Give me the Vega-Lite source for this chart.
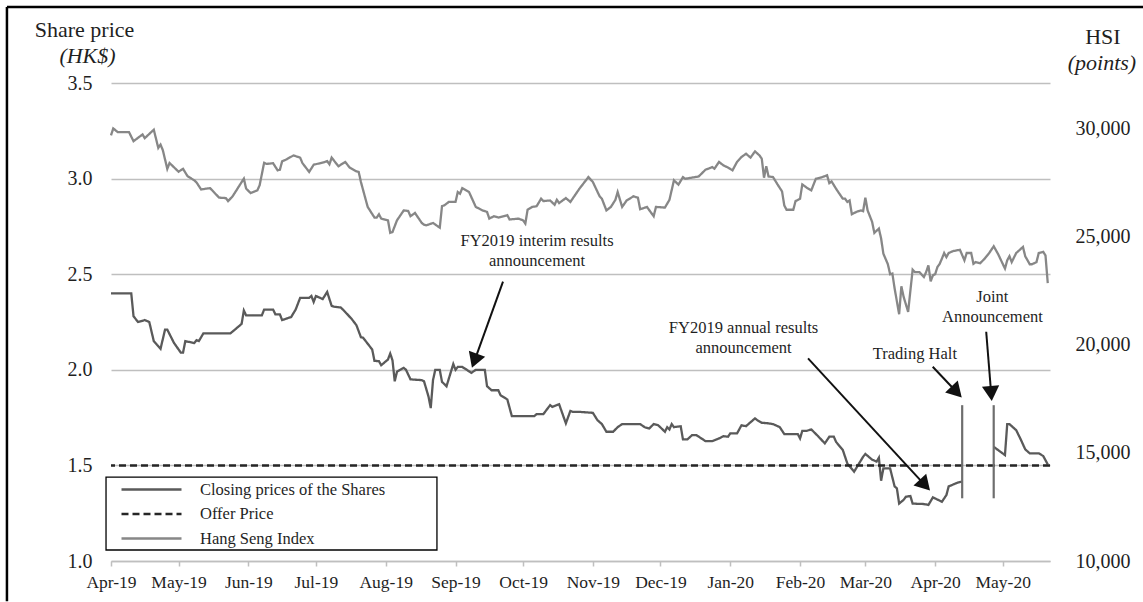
{
  "$schema": "https://vega.github.io/schema/vega-lite/v6.json",
  "width": 939,
  "height": 478,
  "autosize": {"type": "none"},
  "padding": {"left": 111, "top": 83, "right": 93, "bottom": 41},
  "background": "#ffffff",
  "config": {
    "view": {"stroke": null},
    "font": "Liberation Serif",
    "axis": {"labelFont": "Liberation Serif", "labelColor": "#1f1f1f", "titleFont": "Liberation Serif"},
    "text": {"font": "Liberation Serif"}
  },
  "datasets": {
    "price_a": [
      {"date":"2019-04-01","price":2.40,"series":"Closing prices of the Shares"},
      {"date":"2019-04-10","price":2.40,"series":"Closing prices of the Shares"},
      {"date":"2019-04-11","price":2.28,"series":"Closing prices of the Shares"},
      {"date":"2019-04-13","price":2.25,"series":"Closing prices of the Shares"},
      {"date":"2019-04-16","price":2.26,"series":"Closing prices of the Shares"},
      {"date":"2019-04-18","price":2.25,"series":"Closing prices of the Shares"},
      {"date":"2019-04-20","price":2.15,"series":"Closing prices of the Shares"},
      {"date":"2019-04-23","price":2.11,"series":"Closing prices of the Shares"},
      {"date":"2019-04-25","price":2.21,"series":"Closing prices of the Shares"},
      {"date":"2019-04-26","price":2.21,"series":"Closing prices of the Shares"},
      {"date":"2019-04-29","price":2.14,"series":"Closing prices of the Shares"},
      {"date":"2019-05-02","price":2.09,"series":"Closing prices of the Shares"},
      {"date":"2019-05-03","price":2.09,"series":"Closing prices of the Shares"},
      {"date":"2019-05-04","price":2.15,"series":"Closing prices of the Shares"},
      {"date":"2019-05-08","price":2.14,"series":"Closing prices of the Shares"},
      {"date":"2019-05-09","price":2.155,"series":"Closing prices of the Shares"},
      {"date":"2019-05-10","price":2.15,"series":"Closing prices of the Shares"},
      {"date":"2019-05-12","price":2.19,"series":"Closing prices of the Shares"},
      {"date":"2019-05-24","price":2.19,"series":"Closing prices of the Shares"},
      {"date":"2019-05-29","price":2.24,"series":"Closing prices of the Shares"},
      {"date":"2019-05-30","price":2.31,"series":"Closing prices of the Shares"},
      {"date":"2019-05-31","price":2.285,"series":"Closing prices of the Shares"},
      {"date":"2019-06-07","price":2.285,"series":"Closing prices of the Shares"},
      {"date":"2019-06-08","price":2.315,"series":"Closing prices of the Shares"},
      {"date":"2019-06-12","price":2.315,"series":"Closing prices of the Shares"},
      {"date":"2019-06-13","price":2.29,"series":"Closing prices of the Shares"},
      {"date":"2019-06-15","price":2.29,"series":"Closing prices of the Shares"},
      {"date":"2019-06-16","price":2.26,"series":"Closing prices of the Shares"},
      {"date":"2019-06-20","price":2.276,"series":"Closing prices of the Shares"},
      {"date":"2019-06-22","price":2.315,"series":"Closing prices of the Shares"},
      {"date":"2019-06-24","price":2.376,"series":"Closing prices of the Shares"},
      {"date":"2019-06-28","price":2.376,"series":"Closing prices of the Shares"},
      {"date":"2019-06-29","price":2.386,"series":"Closing prices of the Shares"},
      {"date":"2019-06-30","price":2.355,"series":"Closing prices of the Shares"},
      {"date":"2019-07-01","price":2.386,"series":"Closing prices of the Shares"},
      {"date":"2019-07-04","price":2.37,"series":"Closing prices of the Shares"},
      {"date":"2019-07-06","price":2.407,"series":"Closing prices of the Shares"},
      {"date":"2019-07-08","price":2.334,"series":"Closing prices of the Shares"},
      {"date":"2019-07-09","price":2.33,"series":"Closing prices of the Shares"},
      {"date":"2019-07-12","price":2.326,"series":"Closing prices of the Shares"},
      {"date":"2019-07-13","price":2.315,"series":"Closing prices of the Shares"},
      {"date":"2019-07-15","price":2.29,"series":"Closing prices of the Shares"},
      {"date":"2019-07-17","price":2.264,"series":"Closing prices of the Shares"},
      {"date":"2019-07-19","price":2.233,"series":"Closing prices of the Shares"},
      {"date":"2019-07-21","price":2.17,"series":"Closing prices of the Shares"},
      {"date":"2019-07-22","price":2.167,"series":"Closing prices of the Shares"},
      {"date":"2019-07-26","price":2.106,"series":"Closing prices of the Shares"},
      {"date":"2019-07-27","price":2.047,"series":"Closing prices of the Shares"},
      {"date":"2019-07-29","price":2.045,"series":"Closing prices of the Shares"},
      {"date":"2019-07-30","price":2.024,"series":"Closing prices of the Shares"},
      {"date":"2019-08-02","price":2.054,"series":"Closing prices of the Shares"},
      {"date":"2019-08-03","price":2.085,"series":"Closing prices of the Shares"},
      {"date":"2019-08-04","price":2.05,"series":"Closing prices of the Shares"},
      {"date":"2019-08-05","price":1.94,"series":"Closing prices of the Shares"},
      {"date":"2019-08-06","price":1.99,"series":"Closing prices of the Shares"},
      {"date":"2019-08-09","price":2.01,"series":"Closing prices of the Shares"},
      {"date":"2019-08-10","price":2.00,"series":"Closing prices of the Shares"},
      {"date":"2019-08-12","price":1.95,"series":"Closing prices of the Shares"},
      {"date":"2019-08-17","price":1.946,"series":"Closing prices of the Shares"},
      {"date":"2019-08-18","price":1.94,"series":"Closing prices of the Shares"},
      {"date":"2019-08-20","price":1.86,"series":"Closing prices of the Shares"},
      {"date":"2019-08-21","price":1.80,"series":"Closing prices of the Shares"},
      {"date":"2019-08-22","price":1.946,"series":"Closing prices of the Shares"},
      {"date":"2019-08-23","price":2.00,"series":"Closing prices of the Shares"},
      {"date":"2019-08-25","price":2.00,"series":"Closing prices of the Shares"},
      {"date":"2019-08-26","price":1.937,"series":"Closing prices of the Shares"},
      {"date":"2019-08-28","price":1.914,"series":"Closing prices of the Shares"},
      {"date":"2019-08-31","price":2.03,"series":"Closing prices of the Shares"},
      {"date":"2019-09-01","price":2.00,"series":"Closing prices of the Shares"},
      {"date":"2019-09-02","price":2.015,"series":"Closing prices of the Shares"},
      {"date":"2019-09-04","price":2.015,"series":"Closing prices of the Shares"},
      {"date":"2019-09-06","price":2.00,"series":"Closing prices of the Shares"},
      {"date":"2019-09-08","price":1.984,"series":"Closing prices of the Shares"},
      {"date":"2019-09-10","price":2.00,"series":"Closing prices of the Shares"},
      {"date":"2019-09-14","price":2.00,"series":"Closing prices of the Shares"},
      {"date":"2019-09-15","price":1.914,"series":"Closing prices of the Shares"},
      {"date":"2019-09-17","price":1.893,"series":"Closing prices of the Shares"},
      {"date":"2019-09-20","price":1.893,"series":"Closing prices of the Shares"},
      {"date":"2019-09-21","price":1.867,"series":"Closing prices of the Shares"},
      {"date":"2019-09-24","price":1.845,"series":"Closing prices of the Shares"},
      {"date":"2019-09-26","price":1.758,"series":"Closing prices of the Shares"},
      {"date":"2019-10-06","price":1.758,"series":"Closing prices of the Shares"},
      {"date":"2019-10-07","price":1.768,"series":"Closing prices of the Shares"},
      {"date":"2019-10-10","price":1.768,"series":"Closing prices of the Shares"},
      {"date":"2019-10-13","price":1.815,"series":"Closing prices of the Shares"},
      {"date":"2019-10-14","price":1.806,"series":"Closing prices of the Shares"},
      {"date":"2019-10-17","price":1.82,"series":"Closing prices of the Shares"},
      {"date":"2019-10-20","price":1.72,"series":"Closing prices of the Shares"},
      {"date":"2019-10-22","price":1.785,"series":"Closing prices of the Shares"},
      {"date":"2019-10-23","price":1.78,"series":"Closing prices of the Shares"},
      {"date":"2019-10-26","price":1.78,"series":"Closing prices of the Shares"},
      {"date":"2019-11-01","price":1.775,"series":"Closing prices of the Shares"},
      {"date":"2019-11-03","price":1.737,"series":"Closing prices of the Shares"},
      {"date":"2019-11-05","price":1.716,"series":"Closing prices of the Shares"},
      {"date":"2019-11-07","price":1.676,"series":"Closing prices of the Shares"},
      {"date":"2019-11-10","price":1.676,"series":"Closing prices of the Shares"},
      {"date":"2019-11-12","price":1.70,"series":"Closing prices of the Shares"},
      {"date":"2019-11-14","price":1.716,"series":"Closing prices of the Shares"},
      {"date":"2019-11-22","price":1.716,"series":"Closing prices of the Shares"},
      {"date":"2019-11-24","price":1.70,"series":"Closing prices of the Shares"},
      {"date":"2019-11-26","price":1.693,"series":"Closing prices of the Shares"},
      {"date":"2019-11-28","price":1.716,"series":"Closing prices of the Shares"},
      {"date":"2019-11-30","price":1.71,"series":"Closing prices of the Shares"},
      {"date":"2019-12-03","price":1.676,"series":"Closing prices of the Shares"},
      {"date":"2019-12-04","price":1.70,"series":"Closing prices of the Shares"},
      {"date":"2019-12-05","price":1.688,"series":"Closing prices of the Shares"},
      {"date":"2019-12-06","price":1.716,"series":"Closing prices of the Shares"},
      {"date":"2019-12-07","price":1.70,"series":"Closing prices of the Shares"},
      {"date":"2019-12-10","price":1.705,"series":"Closing prices of the Shares"},
      {"date":"2019-12-11","price":1.636,"series":"Closing prices of the Shares"},
      {"date":"2019-12-13","price":1.636,"series":"Closing prices of the Shares"},
      {"date":"2019-12-15","price":1.658,"series":"Closing prices of the Shares"},
      {"date":"2019-12-17","price":1.658,"series":"Closing prices of the Shares"},
      {"date":"2019-12-21","price":1.627,"series":"Closing prices of the Shares"},
      {"date":"2019-12-24","price":1.627,"series":"Closing prices of the Shares"},
      {"date":"2019-12-27","price":1.641,"series":"Closing prices of the Shares"},
      {"date":"2019-12-29","price":1.653,"series":"Closing prices of the Shares"},
      {"date":"2019-12-31","price":1.65,"series":"Closing prices of the Shares"},
      {"date":"2020-01-01","price":1.667,"series":"Closing prices of the Shares"},
      {"date":"2020-01-04","price":1.667,"series":"Closing prices of the Shares"},
      {"date":"2020-01-06","price":1.71,"series":"Closing prices of the Shares"},
      {"date":"2020-01-08","price":1.705,"series":"Closing prices of the Shares"},
      {"date":"2020-01-12","price":1.746,"series":"Closing prices of the Shares"},
      {"date":"2020-01-13","price":1.737,"series":"Closing prices of the Shares"},
      {"date":"2020-01-15","price":1.723,"series":"Closing prices of the Shares"},
      {"date":"2020-01-18","price":1.72,"series":"Closing prices of the Shares"},
      {"date":"2020-01-20","price":1.716,"series":"Closing prices of the Shares"},
      {"date":"2020-01-23","price":1.70,"series":"Closing prices of the Shares"},
      {"date":"2020-01-25","price":1.664,"series":"Closing prices of the Shares"},
      {"date":"2020-01-31","price":1.664,"series":"Closing prices of the Shares"},
      {"date":"2020-02-01","price":1.641,"series":"Closing prices of the Shares"},
      {"date":"2020-02-02","price":1.681,"series":"Closing prices of the Shares"},
      {"date":"2020-02-04","price":1.681,"series":"Closing prices of the Shares"},
      {"date":"2020-02-06","price":1.688,"series":"Closing prices of the Shares"},
      {"date":"2020-02-09","price":1.653,"series":"Closing prices of the Shares"},
      {"date":"2020-02-12","price":1.615,"series":"Closing prices of the Shares"},
      {"date":"2020-02-14","price":1.65,"series":"Closing prices of the Shares"},
      {"date":"2020-02-16","price":1.65,"series":"Closing prices of the Shares"},
      {"date":"2020-02-17","price":1.623,"series":"Closing prices of the Shares"},
      {"date":"2020-02-20","price":1.58,"series":"Closing prices of the Shares"},
      {"date":"2020-02-22","price":1.51,"series":"Closing prices of the Shares"},
      {"date":"2020-02-25","price":1.467,"series":"Closing prices of the Shares"},
      {"date":"2020-02-29","price":1.545,"series":"Closing prices of the Shares"},
      {"date":"2020-03-01","price":1.56,"series":"Closing prices of the Shares"},
      {"date":"2020-03-04","price":1.53,"series":"Closing prices of the Shares"},
      {"date":"2020-03-06","price":1.52,"series":"Closing prices of the Shares"},
      {"date":"2020-03-07","price":1.54,"series":"Closing prices of the Shares"},
      {"date":"2020-03-08","price":1.42,"series":"Closing prices of the Shares"},
      {"date":"2020-03-09","price":1.484,"series":"Closing prices of the Shares"},
      {"date":"2020-03-12","price":1.484,"series":"Closing prices of the Shares"},
      {"date":"2020-03-14","price":1.39,"series":"Closing prices of the Shares"},
      {"date":"2020-03-15","price":1.38,"series":"Closing prices of the Shares"},
      {"date":"2020-03-16","price":1.30,"series":"Closing prices of the Shares"},
      {"date":"2020-03-18","price":1.32,"series":"Closing prices of the Shares"},
      {"date":"2020-03-19","price":1.336,"series":"Closing prices of the Shares"},
      {"date":"2020-03-21","price":1.34,"series":"Closing prices of the Shares"},
      {"date":"2020-03-22","price":1.30,"series":"Closing prices of the Shares"},
      {"date":"2020-03-27","price":1.298,"series":"Closing prices of the Shares"},
      {"date":"2020-03-29","price":1.293,"series":"Closing prices of the Shares"},
      {"date":"2020-03-31","price":1.333,"series":"Closing prices of the Shares"},
      {"date":"2020-04-01","price":1.327,"series":"Closing prices of the Shares"},
      {"date":"2020-04-04","price":1.31,"series":"Closing prices of the Shares"},
      {"date":"2020-04-06","price":1.345,"series":"Closing prices of the Shares"},
      {"date":"2020-04-07","price":1.39,"series":"Closing prices of the Shares"},
      {"date":"2020-04-11","price":1.41,"series":"Closing prices of the Shares"},
      {"date":"2020-04-13","price":1.415,"series":"Closing prices of the Shares"}
    ],
    "price_b": [
      {"date":"2020-04-27","price":1.597,"series":"Closing prices of the Shares"},
      {"date":"2020-05-02","price":1.554,"series":"Closing prices of the Shares"},
      {"date":"2020-05-03","price":1.716,"series":"Closing prices of the Shares"},
      {"date":"2020-05-04","price":1.716,"series":"Closing prices of the Shares"},
      {"date":"2020-05-07","price":1.684,"series":"Closing prices of the Shares"},
      {"date":"2020-05-09","price":1.636,"series":"Closing prices of the Shares"},
      {"date":"2020-05-11","price":1.584,"series":"Closing prices of the Shares"},
      {"date":"2020-05-13","price":1.563,"series":"Closing prices of the Shares"},
      {"date":"2020-05-17","price":1.563,"series":"Closing prices of the Shares"},
      {"date":"2020-05-19","price":1.549,"series":"Closing prices of the Shares"},
      {"date":"2020-05-21","price":1.505,"series":"Closing prices of the Shares"}
    ],
    "offer": [{"price": 1.5, "series": "Offer Price"}],
    "hsi": [
      {"date":"2019-04-01","hsi":29680,"series":"Hang Seng Index"},
      {"date":"2019-04-02","hsi":30000,"series":"Hang Seng Index"},
      {"date":"2019-04-04","hsi":29830,"series":"Hang Seng Index"},
      {"date":"2019-04-09","hsi":29830,"series":"Hang Seng Index"},
      {"date":"2019-04-11","hsi":29410,"series":"Hang Seng Index"},
      {"date":"2019-04-15","hsi":29720,"series":"Hang Seng Index"},
      {"date":"2019-04-16","hsi":29550,"series":"Hang Seng Index"},
      {"date":"2019-04-20","hsi":29940,"series":"Hang Seng Index"},
      {"date":"2019-04-22","hsi":29100,"series":"Hang Seng Index"},
      {"date":"2019-04-23","hsi":29250,"series":"Hang Seng Index"},
      {"date":"2019-04-24","hsi":29000,"series":"Hang Seng Index"},
      {"date":"2019-04-26","hsi":28130,"series":"Hang Seng Index"},
      {"date":"2019-04-27","hsi":28400,"series":"Hang Seng Index"},
      {"date":"2019-05-01","hsi":28000,"series":"Hang Seng Index"},
      {"date":"2019-05-03","hsi":28130,"series":"Hang Seng Index"},
      {"date":"2019-05-05","hsi":27790,"series":"Hang Seng Index"},
      {"date":"2019-05-08","hsi":27600,"series":"Hang Seng Index"},
      {"date":"2019-05-09","hsi":27500,"series":"Hang Seng Index"},
      {"date":"2019-05-11","hsi":27180,"series":"Hang Seng Index"},
      {"date":"2019-05-15","hsi":27240,"series":"Hang Seng Index"},
      {"date":"2019-05-19","hsi":26800,"series":"Hang Seng Index"},
      {"date":"2019-05-22","hsi":26780,"series":"Hang Seng Index"},
      {"date":"2019-05-23","hsi":26640,"series":"Hang Seng Index"},
      {"date":"2019-05-25","hsi":26860,"series":"Hang Seng Index"},
      {"date":"2019-05-30","hsi":27680,"series":"Hang Seng Index"},
      {"date":"2019-05-31","hsi":27220,"series":"Hang Seng Index"},
      {"date":"2019-06-02","hsi":27010,"series":"Hang Seng Index"},
      {"date":"2019-06-05","hsi":27140,"series":"Hang Seng Index"},
      {"date":"2019-06-06","hsi":27370,"series":"Hang Seng Index"},
      {"date":"2019-06-08","hsi":28410,"series":"Hang Seng Index"},
      {"date":"2019-06-09","hsi":28360,"series":"Hang Seng Index"},
      {"date":"2019-06-12","hsi":28390,"series":"Hang Seng Index"},
      {"date":"2019-06-14","hsi":28060,"series":"Hang Seng Index"},
      {"date":"2019-06-15","hsi":28090,"series":"Hang Seng Index"},
      {"date":"2019-06-16","hsi":28480,"series":"Hang Seng Index"},
      {"date":"2019-06-18","hsi":28570,"series":"Hang Seng Index"},
      {"date":"2019-06-21","hsi":28750,"series":"Hang Seng Index"},
      {"date":"2019-06-24","hsi":28650,"series":"Hang Seng Index"},
      {"date":"2019-06-25","hsi":28400,"series":"Hang Seng Index"},
      {"date":"2019-06-28","hsi":27990,"series":"Hang Seng Index"},
      {"date":"2019-06-30","hsi":28320,"series":"Hang Seng Index"},
      {"date":"2019-07-05","hsi":28450,"series":"Hang Seng Index"},
      {"date":"2019-07-06","hsi":28490,"series":"Hang Seng Index"},
      {"date":"2019-07-07","hsi":28340,"series":"Hang Seng Index"},
      {"date":"2019-07-08","hsi":28650,"series":"Hang Seng Index"},
      {"date":"2019-07-11","hsi":28250,"series":"Hang Seng Index"},
      {"date":"2019-07-14","hsi":28450,"series":"Hang Seng Index"},
      {"date":"2019-07-16","hsi":28190,"series":"Hang Seng Index"},
      {"date":"2019-07-19","hsi":28010,"series":"Hang Seng Index"},
      {"date":"2019-07-20","hsi":27990,"series":"Hang Seng Index"},
      {"date":"2019-07-21","hsi":27520,"series":"Hang Seng Index"},
      {"date":"2019-07-23","hsi":26750,"series":"Hang Seng Index"},
      {"date":"2019-07-24","hsi":26370,"series":"Hang Seng Index"},
      {"date":"2019-07-27","hsi":25880,"series":"Hang Seng Index"},
      {"date":"2019-07-28","hsi":25880,"series":"Hang Seng Index"},
      {"date":"2019-07-29","hsi":26030,"series":"Hang Seng Index"},
      {"date":"2019-07-30","hsi":25830,"series":"Hang Seng Index"},
      {"date":"2019-08-02","hsi":25750,"series":"Hang Seng Index"},
      {"date":"2019-08-03","hsi":25170,"series":"Hang Seng Index"},
      {"date":"2019-08-04","hsi":25210,"series":"Hang Seng Index"},
      {"date":"2019-08-06","hsi":25750,"series":"Hang Seng Index"},
      {"date":"2019-08-09","hsi":26210,"series":"Hang Seng Index"},
      {"date":"2019-08-11","hsi":26180,"series":"Hang Seng Index"},
      {"date":"2019-08-12","hsi":25940,"series":"Hang Seng Index"},
      {"date":"2019-08-14","hsi":26090,"series":"Hang Seng Index"},
      {"date":"2019-08-17","hsi":25630,"series":"Hang Seng Index"},
      {"date":"2019-08-18","hsi":25550,"series":"Hang Seng Index"},
      {"date":"2019-08-19","hsi":25520,"series":"Hang Seng Index"},
      {"date":"2019-08-22","hsi":25630,"series":"Hang Seng Index"},
      {"date":"2019-08-25","hsi":25410,"series":"Hang Seng Index"},
      {"date":"2019-08-26","hsi":26410,"series":"Hang Seng Index"},
      {"date":"2019-08-27","hsi":26440,"series":"Hang Seng Index"},
      {"date":"2019-08-29","hsi":26600,"series":"Hang Seng Index"},
      {"date":"2019-09-01","hsi":26600,"series":"Hang Seng Index"},
      {"date":"2019-09-02","hsi":27060,"series":"Hang Seng Index"},
      {"date":"2019-09-03","hsi":26980,"series":"Hang Seng Index"},
      {"date":"2019-09-04","hsi":27240,"series":"Hang Seng Index"},
      {"date":"2019-09-07","hsi":27060,"series":"Hang Seng Index"},
      {"date":"2019-09-10","hsi":26370,"series":"Hang Seng Index"},
      {"date":"2019-09-13","hsi":26210,"series":"Hang Seng Index"},
      {"date":"2019-09-15","hsi":26140,"series":"Hang Seng Index"},
      {"date":"2019-09-16","hsi":25830,"series":"Hang Seng Index"},
      {"date":"2019-09-18","hsi":25940,"series":"Hang Seng Index"},
      {"date":"2019-09-20","hsi":25880,"series":"Hang Seng Index"},
      {"date":"2019-09-24","hsi":25990,"series":"Hang Seng Index"},
      {"date":"2019-09-25","hsi":25790,"series":"Hang Seng Index"},
      {"date":"2019-09-29","hsi":25830,"series":"Hang Seng Index"},
      {"date":"2019-10-01","hsi":25750,"series":"Hang Seng Index"},
      {"date":"2019-10-02","hsi":25600,"series":"Hang Seng Index"},
      {"date":"2019-10-03","hsi":26240,"series":"Hang Seng Index"},
      {"date":"2019-10-05","hsi":26370,"series":"Hang Seng Index"},
      {"date":"2019-10-07","hsi":26400,"series":"Hang Seng Index"},
      {"date":"2019-10-09","hsi":26750,"series":"Hang Seng Index"},
      {"date":"2019-10-10","hsi":26640,"series":"Hang Seng Index"},
      {"date":"2019-10-13","hsi":26670,"series":"Hang Seng Index"},
      {"date":"2019-10-15","hsi":26470,"series":"Hang Seng Index"},
      {"date":"2019-10-16","hsi":26700,"series":"Hang Seng Index"},
      {"date":"2019-10-17","hsi":26550,"series":"Hang Seng Index"},
      {"date":"2019-10-20","hsi":26780,"series":"Hang Seng Index"},
      {"date":"2019-10-22","hsi":26600,"series":"Hang Seng Index"},
      {"date":"2019-10-26","hsi":27210,"series":"Hang Seng Index"},
      {"date":"2019-10-30","hsi":27750,"series":"Hang Seng Index"},
      {"date":"2019-11-01","hsi":27520,"series":"Hang Seng Index"},
      {"date":"2019-11-04","hsi":26860,"series":"Hang Seng Index"},
      {"date":"2019-11-05","hsi":26750,"series":"Hang Seng Index"},
      {"date":"2019-11-07","hsi":26210,"series":"Hang Seng Index"},
      {"date":"2019-11-09","hsi":26370,"series":"Hang Seng Index"},
      {"date":"2019-11-11","hsi":26700,"series":"Hang Seng Index"},
      {"date":"2019-11-12","hsi":27060,"series":"Hang Seng Index"},
      {"date":"2019-11-14","hsi":26370,"series":"Hang Seng Index"},
      {"date":"2019-11-16","hsi":26670,"series":"Hang Seng Index"},
      {"date":"2019-11-19","hsi":26860,"series":"Hang Seng Index"},
      {"date":"2019-11-21","hsi":26800,"series":"Hang Seng Index"},
      {"date":"2019-11-22","hsi":26260,"series":"Hang Seng Index"},
      {"date":"2019-11-25","hsi":26370,"series":"Hang Seng Index"},
      {"date":"2019-11-28","hsi":25940,"series":"Hang Seng Index"},
      {"date":"2019-11-29","hsi":26370,"series":"Hang Seng Index"},
      {"date":"2019-12-03","hsi":26340,"series":"Hang Seng Index"},
      {"date":"2019-12-05","hsi":26700,"series":"Hang Seng Index"},
      {"date":"2019-12-07","hsi":27600,"series":"Hang Seng Index"},
      {"date":"2019-12-09","hsi":27400,"series":"Hang Seng Index"},
      {"date":"2019-12-11","hsi":27750,"series":"Hang Seng Index"},
      {"date":"2019-12-12","hsi":27670,"series":"Hang Seng Index"},
      {"date":"2019-12-18","hsi":27780,"series":"Hang Seng Index"},
      {"date":"2019-12-21","hsi":28090,"series":"Hang Seng Index"},
      {"date":"2019-12-24","hsi":28210,"series":"Hang Seng Index"},
      {"date":"2019-12-25","hsi":28140,"series":"Hang Seng Index"},
      {"date":"2019-12-27","hsi":28450,"series":"Hang Seng Index"},
      {"date":"2019-12-29","hsi":28290,"series":"Hang Seng Index"},
      {"date":"2019-12-31","hsi":28190,"series":"Hang Seng Index"},
      {"date":"2020-01-02","hsi":28060,"series":"Hang Seng Index"},
      {"date":"2020-01-04","hsi":28450,"series":"Hang Seng Index"},
      {"date":"2020-01-06","hsi":28680,"series":"Hang Seng Index"},
      {"date":"2020-01-08","hsi":28830,"series":"Hang Seng Index"},
      {"date":"2020-01-10","hsi":28650,"series":"Hang Seng Index"},
      {"date":"2020-01-12","hsi":28940,"series":"Hang Seng Index"},
      {"date":"2020-01-14","hsi":28750,"series":"Hang Seng Index"},
      {"date":"2020-01-15","hsi":28600,"series":"Hang Seng Index"},
      {"date":"2020-01-16","hsi":27720,"series":"Hang Seng Index"},
      {"date":"2020-01-17","hsi":28250,"series":"Hang Seng Index"},
      {"date":"2020-01-18","hsi":27780,"series":"Hang Seng Index"},
      {"date":"2020-01-20","hsi":27750,"series":"Hang Seng Index"},
      {"date":"2020-01-22","hsi":27410,"series":"Hang Seng Index"},
      {"date":"2020-01-24","hsi":27090,"series":"Hang Seng Index"},
      {"date":"2020-01-25","hsi":26440,"series":"Hang Seng Index"},
      {"date":"2020-01-26","hsi":26240,"series":"Hang Seng Index"},
      {"date":"2020-01-29","hsi":26240,"series":"Hang Seng Index"},
      {"date":"2020-01-30","hsi":26640,"series":"Hang Seng Index"},
      {"date":"2020-02-01","hsi":26750,"series":"Hang Seng Index"},
      {"date":"2020-02-02","hsi":27410,"series":"Hang Seng Index"},
      {"date":"2020-02-04","hsi":27260,"series":"Hang Seng Index"},
      {"date":"2020-02-06","hsi":27140,"series":"Hang Seng Index"},
      {"date":"2020-02-08","hsi":27670,"series":"Hang Seng Index"},
      {"date":"2020-02-10","hsi":27720,"series":"Hang Seng Index"},
      {"date":"2020-02-13","hsi":27830,"series":"Hang Seng Index"},
      {"date":"2020-02-14","hsi":27470,"series":"Hang Seng Index"},
      {"date":"2020-02-15","hsi":27550,"series":"Hang Seng Index"},
      {"date":"2020-02-17","hsi":27210,"series":"Hang Seng Index"},
      {"date":"2020-02-19","hsi":26900,"series":"Hang Seng Index"},
      {"date":"2020-02-20","hsi":26750,"series":"Hang Seng Index"},
      {"date":"2020-02-21","hsi":26750,"series":"Hang Seng Index"},
      {"date":"2020-02-22","hsi":26600,"series":"Hang Seng Index"},
      {"date":"2020-02-23","hsi":26670,"series":"Hang Seng Index"},
      {"date":"2020-02-24","hsi":26030,"series":"Hang Seng Index"},
      {"date":"2020-02-26","hsi":26140,"series":"Hang Seng Index"},
      {"date":"2020-02-28","hsi":26210,"series":"Hang Seng Index"},
      {"date":"2020-02-29","hsi":26170,"series":"Hang Seng Index"},
      {"date":"2020-03-01","hsi":26800,"series":"Hang Seng Index"},
      {"date":"2020-03-02","hsi":26210,"series":"Hang Seng Index"},
      {"date":"2020-03-04","hsi":25680,"series":"Hang Seng Index"},
      {"date":"2020-03-05","hsi":25170,"series":"Hang Seng Index"},
      {"date":"2020-03-07","hsi":25370,"series":"Hang Seng Index"},
      {"date":"2020-03-08","hsi":24910,"series":"Hang Seng Index"},
      {"date":"2020-03-09","hsi":24210,"series":"Hang Seng Index"},
      {"date":"2020-03-11","hsi":23720,"series":"Hang Seng Index"},
      {"date":"2020-03-12","hsi":23260,"series":"Hang Seng Index"},
      {"date":"2020-03-13","hsi":23290,"series":"Hang Seng Index"},
      {"date":"2020-03-14","hsi":22600,"series":"Hang Seng Index"},
      {"date":"2020-03-16","hsi":21410,"series":"Hang Seng Index"},
      {"date":"2020-03-17","hsi":22700,"series":"Hang Seng Index"},
      {"date":"2020-03-18","hsi":22210,"series":"Hang Seng Index"},
      {"date":"2020-03-20","hsi":21520,"series":"Hang Seng Index"},
      {"date":"2020-03-22","hsi":23470,"series":"Hang Seng Index"},
      {"date":"2020-03-23","hsi":23360,"series":"Hang Seng Index"},
      {"date":"2020-03-25","hsi":23360,"series":"Hang Seng Index"},
      {"date":"2020-03-27","hsi":23130,"series":"Hang Seng Index"},
      {"date":"2020-03-28","hsi":23360,"series":"Hang Seng Index"},
      {"date":"2020-03-29","hsi":23670,"series":"Hang Seng Index"},
      {"date":"2020-03-30","hsi":22930,"series":"Hang Seng Index"},
      {"date":"2020-03-31","hsi":23210,"series":"Hang Seng Index"},
      {"date":"2020-04-01","hsi":23260,"series":"Hang Seng Index"},
      {"date":"2020-04-02","hsi":23590,"series":"Hang Seng Index"},
      {"date":"2020-04-03","hsi":23740,"series":"Hang Seng Index"},
      {"date":"2020-04-04","hsi":23980,"series":"Hang Seng Index"},
      {"date":"2020-04-05","hsi":24240,"series":"Hang Seng Index"},
      {"date":"2020-04-06","hsi":24050,"series":"Hang Seng Index"},
      {"date":"2020-04-07","hsi":24240,"series":"Hang Seng Index"},
      {"date":"2020-04-09","hsi":24330,"series":"Hang Seng Index"},
      {"date":"2020-04-12","hsi":24390,"series":"Hang Seng Index"},
      {"date":"2020-04-14","hsi":23900,"series":"Hang Seng Index"},
      {"date":"2020-04-15","hsi":24240,"series":"Hang Seng Index"},
      {"date":"2020-04-17","hsi":24240,"series":"Hang Seng Index"},
      {"date":"2020-04-18","hsi":23740,"series":"Hang Seng Index"},
      {"date":"2020-04-19","hsi":23820,"series":"Hang Seng Index"},
      {"date":"2020-04-21","hsi":23770,"series":"Hang Seng Index"},
      {"date":"2020-04-23","hsi":23980,"series":"Hang Seng Index"},
      {"date":"2020-04-25","hsi":24240,"series":"Hang Seng Index"},
      {"date":"2020-04-27","hsi":24550,"series":"Hang Seng Index"},
      {"date":"2020-04-29","hsi":24180,"series":"Hang Seng Index"},
      {"date":"2020-05-02","hsi":23520,"series":"Hang Seng Index"},
      {"date":"2020-05-03","hsi":23900,"series":"Hang Seng Index"},
      {"date":"2020-05-04","hsi":24090,"series":"Hang Seng Index"},
      {"date":"2020-05-05","hsi":23820,"series":"Hang Seng Index"},
      {"date":"2020-05-07","hsi":24240,"series":"Hang Seng Index"},
      {"date":"2020-05-10","hsi":24520,"series":"Hang Seng Index"},
      {"date":"2020-05-11","hsi":24090,"series":"Hang Seng Index"},
      {"date":"2020-05-13","hsi":23720,"series":"Hang Seng Index"},
      {"date":"2020-05-14","hsi":23720,"series":"Hang Seng Index"},
      {"date":"2020-05-16","hsi":23820,"series":"Hang Seng Index"},
      {"date":"2020-05-17","hsi":24240,"series":"Hang Seng Index"},
      {"date":"2020-05-19","hsi":24290,"series":"Hang Seng Index"},
      {"date":"2020-05-20","hsi":24130,"series":"Hang Seng Index"},
      {"date":"2020-05-21","hsi":22850,"series":"Hang Seng Index"}
    ],
    "halts": [
      {"date":"2020-04-13","low":1.328,"high":1.815,"event":"Trading Halt"},
      {"date":"2020-04-27","low":1.328,"high":1.815,"event":"Joint Announcement"}
    ],
    "notes": [
      {"date":"2019-10-07T05:00:00Z","value":2.645,"text":"FY2019 interim results\nannouncement"},
      {"date":"2020-01-06T22:00:00Z","value":2.19,"text":"FY2019 annual results\nannouncement"},
      {"date":"2020-03-23T00:00:00Z","value":2.059,"text":"Trading Halt"},
      {"date":"2020-04-26T10:00:00Z","value":2.352,"text":"Joint\nAnnouncement"}
    ],
    "titles": [
      {"date":"2019-03-20T05:30:00Z","value":3.742,"text":"Share price"},
      {"date":"2020-06-14T12:00:00Z","value":3.702,"text":"HSI"}
    ],
    "units": [
      {"date":"2019-03-21T13:30:00Z","value":3.603,"text":"(HK$)"},
      {"date":"2020-06-14T02:00:00Z","value":3.568,"text":"(points)"}
    ],
    "arrows": [
      {"id":1,"date":"2019-09-22T02:00:00Z","value":2.461,"date2":"2019-09-09T10:00:00Z","value2":2.047},
      {"id":2,"date":"2020-02-04T13:00:00Z","value":2.06,"date2":"2020-03-27T11:00:00Z","value2":1.397},
      {"id":3,"date":"2020-03-30T22:00:00Z","value":2.016,"date2":"2020-04-10T12:30:00Z","value2":1.884},
      {"id":4,"date":"2020-04-23T16:00:00Z","value":2.199,"date2":"2020-04-25T21:00:00Z","value2":1.876}
    ]
  },
  "layer": [
    {
      "layer": [
        {
          "data": {"name": "price_a"},
          "mark": {"type": "line", "strokeWidth": 2.3},
          "encoding": {
            "x": {
              "field": "date", "type": "temporal", "title": null,
              "scale": {"type": "utc", "domain": [{"year": 2019, "month": 4, "date": 1, "utc": true}, {"year": 2020, "month": 5, "date": 22, "utc": true}]},
              "axis": {
                "values": [
                  {"year": 2019, "month": 4, "date": 1, "utc": true},
                  {"year": 2019, "month": 5, "date": 1, "utc": true},
                  {"year": 2019, "month": 6, "date": 1, "utc": true},
                  {"year": 2019, "month": 7, "date": 1, "utc": true},
                  {"year": 2019, "month": 8, "date": 1, "utc": true},
                  {"year": 2019, "month": 9, "date": 1, "utc": true},
                  {"year": 2019, "month": 10, "date": 1, "utc": true},
                  {"year": 2019, "month": 11, "date": 1, "utc": true},
                  {"year": 2019, "month": 12, "date": 1, "utc": true},
                  {"year": 2020, "month": 1, "date": 1, "utc": true},
                  {"year": 2020, "month": 2, "date": 1, "utc": true},
                  {"year": 2020, "month": 3, "date": 1, "utc": true},
                  {"year": 2020, "month": 4, "date": 1, "utc": true},
                  {"year": 2020, "month": 5, "date": 1, "utc": true}
                ],
                "labelExpr": "utcFormat(datum.value, '%b-%y')",
                "labelFontSize": 17.5, "labelPadding": 7, "labelAngle": 0,
                "labelFlush": false, "labelOverlap": false,
                "ticks": true, "tickSize": 5, "tickColor": "#bfbfbf", "tickWidth": 1.5,
                "domain": true, "domainColor": "#bfbfbf", "domainWidth": 1.5, "grid": false
              }
            },
            "y": {
              "field": "price", "type": "quantitative", "title": null,
              "scale": {"domain": [1, 3.5], "nice": false, "zero": false},
              "axis": {
                "orient": "left", "values": [1, 1.5, 2, 2.5, 3, 3.5], "format": ".1f",
                "labelFontSize": 20, "labelPadding": 19, "ticks": false, "domain": false,
                "grid": true, "gridColor": "#bfbfbf", "gridWidth": 1.5
              }
            },
            "color": {
              "field": "series", "type": "nominal", "title": null,
              "scale": {"domain": ["Closing prices of the Shares", "Offer Price", "Hang Seng Index"], "range": ["#5a5a5a", "#262626", "#878787"]},
              "legend": {
                "orient": "none", "legendX": -5, "legendY": 394, "direction": "vertical",
                "padding": 4,
                "symbolType": "stroke", "symbolSize": 3600, "symbolStrokeWidth": 2.5,
                "clipHeight": 17, "symbolOffset": 10, "labelOffset": 17, "rowPadding": 7.5,
                "labelFont": "Liberation Serif", "labelFontSize": 16.5, "labelColor": "#1f1f1f", "labelLimit": 500
              }
            },
            "strokeDash": {
              "field": "series", "type": "nominal", "title": null,
              "scale": {"domain": ["Closing prices of the Shares", "Offer Price", "Hang Seng Index"], "range": [[1, 0], [7, 4], [1, 0]]},
              "legend": {
                "orient": "none", "legendX": -5, "legendY": 394, "direction": "vertical",
                "padding": 4,
                "symbolType": "stroke", "symbolSize": 3600, "symbolStrokeWidth": 2.5,
                "clipHeight": 17, "symbolOffset": 10, "labelOffset": 17, "rowPadding": 7.5,
                "labelFont": "Liberation Serif", "labelFontSize": 16.5, "labelColor": "#1f1f1f", "labelLimit": 500
              }
            }
          }
        },
        {
          "data": {"name": "price_b"},
          "mark": {"type": "line", "strokeWidth": 2.3},
          "encoding": {
            "x": {"field": "date", "type": "temporal", "title": null},
            "y": {"field": "price", "type": "quantitative", "title": null},
            "color": {"field": "series", "type": "nominal", "title": null},
            "strokeDash": {"field": "series", "type": "nominal", "title": null}
          }
        },
        {
          "data": {"name": "offer"},
          "mark": {"type": "rule", "strokeWidth": 2.5},
          "encoding": {
            "y": {"field": "price", "type": "quantitative", "title": null},
            "color": {"field": "series", "type": "nominal", "title": null},
            "strokeDash": {"field": "series", "type": "nominal", "title": null}
          }
        },
        {
          "data": {"name": "halts"},
          "mark": {"type": "rule", "strokeWidth": 2.2, "color": "#6e6e6e"},
          "encoding": {
            "x": {"field": "date", "type": "temporal", "title": null},
            "y": {"field": "low", "type": "quantitative", "title": null},
            "y2": {"field": "high"}
          }
        },
        {
          "data": {"name": "arrows"},
          "mark": {"type": "rule", "strokeWidth": 2, "color": "#111111"},
          "encoding": {
            "x": {"field": "date", "type": "temporal", "title": null},
            "x2": {"field": "date2"},
            "y": {"field": "value", "type": "quantitative", "title": null},
            "y2": {"field": "value2"}
          }
        },
        {
          "data": {"name": "arrows"},
          "transform": [{"filter": "datum.id == 1"}],
          "mark": {"type": "point", "shape": "triangle-up", "filled": true, "size": 300, "angle": 199.8, "color": "#111111", "opacity": 1},
          "encoding": {
            "x": {"field": "date2", "type": "temporal", "title": null},
            "y": {"field": "value2", "type": "quantitative", "title": null}
          }
        },
        {
          "data": {"name": "arrows"},
          "transform": [{"filter": "datum.id == 2"}],
          "mark": {"type": "point", "shape": "triangle-up", "filled": true, "size": 300, "angle": 137.3, "color": "#111111", "opacity": 1},
          "encoding": {
            "x": {"field": "date2", "type": "temporal", "title": null},
            "y": {"field": "value2", "type": "quantitative", "title": null}
          }
        },
        {
          "data": {"name": "arrows"},
          "transform": [{"filter": "datum.id == 3"}],
          "mark": {"type": "point", "shape": "triangle-up", "filled": true, "size": 300, "angle": 136.7, "color": "#111111", "opacity": 1},
          "encoding": {
            "x": {"field": "date2", "type": "temporal", "title": null},
            "y": {"field": "value2", "type": "quantitative", "title": null}
          }
        },
        {
          "data": {"name": "arrows"},
          "transform": [{"filter": "datum.id == 4"}],
          "mark": {"type": "point", "shape": "triangle-up", "filled": true, "size": 300, "angle": 175.4, "color": "#111111", "opacity": 1},
          "encoding": {
            "x": {"field": "date2", "type": "temporal", "title": null},
            "y": {"field": "value2", "type": "quantitative", "title": null}
          }
        },
        {
          "data": {"name": "notes"},
          "mark": {"type": "text", "align": "center", "baseline": "alphabetic", "lineBreak": "\n", "lineHeight": 20, "fontSize": 16.5, "color": "#1f1f1f", "font": "Liberation Serif"},
          "encoding": {
            "x": {"field": "date", "type": "temporal", "title": null},
            "y": {"field": "value", "type": "quantitative", "title": null},
            "text": {"field": "text", "type": "nominal"}
          }
        },
        {
          "data": {"name": "titles"},
          "mark": {"type": "text", "align": "center", "baseline": "alphabetic", "fontSize": 22, "color": "#1f1f1f", "font": "Liberation Serif", "clip": false},
          "encoding": {
            "x": {"field": "date", "type": "temporal", "title": null},
            "y": {"field": "value", "type": "quantitative", "title": null},
            "text": {"field": "text", "type": "nominal"}
          }
        },
        {
          "data": {"name": "units"},
          "mark": {"type": "text", "align": "center", "baseline": "alphabetic", "fontSize": 22, "fontStyle": "italic", "color": "#1f1f1f", "font": "Liberation Serif", "clip": false},
          "encoding": {
            "x": {"field": "date", "type": "temporal", "title": null},
            "y": {"field": "value", "type": "quantitative", "title": null},
            "text": {"field": "text", "type": "nominal"}
          }
        },
        {
          "data": {"values": [{}]},
          "mark": {"type": "rect", "filled": false, "color": "#000000", "strokeWidth": 1.3, "clip": false},
          "encoding": {
            "x": {"datum": {"year": 2019, "month": 3, "date": 29, "hours": 19, "utc": true}, "type": "temporal"},
            "x2": {"datum": {"year": 2019, "month": 8, "date": 23, "hours": 18, "utc": true}},
            "y": {"datum": 1.439, "type": "quantitative"},
            "y2": {"datum": 1.0575}
          }
        },
        {
          "data": {"values": [{}]},
          "mark": {"type": "rule", "color": "#000000", "strokeWidth": 2.5, "clip": false},
          "encoding": {
            "x": {"datum": {"year": 2019, "month": 2, "date": 13, "hours": 19, "utc": true}, "type": "temporal"},
            "x2": {"datum": {"year": 2020, "month": 7, "date": 2, "hours": 12, "utc": true}},
            "y": {"datum": 3.897, "type": "quantitative"}
          }
        },
        {
          "data": {"values": [{}]},
          "mark": {"type": "rule", "color": "#000000", "strokeWidth": 2.5, "clip": false},
          "encoding": {
            "x": {"datum": {"year": 2019, "month": 2, "date": 13, "hours": 19, "utc": true}, "type": "temporal"},
            "y": {"datum": 3.897, "type": "quantitative"},
            "y2": {"datum": 0.79}
          }
        }
      ]
    },
    {
      "data": {"name": "hsi"},
      "mark": {"type": "line", "strokeWidth": 2.3},
      "encoding": {
        "x": {
          "field": "date", "type": "temporal", "title": null,
          "scale": {"type": "utc", "domain": [{"year": 2019, "month": 4, "date": 1, "utc": true}, {"year": 2020, "month": 5, "date": 22, "utc": true}]},
          "axis": {
            "values": [
              {"year": 2019, "month": 4, "date": 1, "utc": true},
              {"year": 2019, "month": 5, "date": 1, "utc": true},
              {"year": 2019, "month": 6, "date": 1, "utc": true},
              {"year": 2019, "month": 7, "date": 1, "utc": true},
              {"year": 2019, "month": 8, "date": 1, "utc": true},
              {"year": 2019, "month": 9, "date": 1, "utc": true},
              {"year": 2019, "month": 10, "date": 1, "utc": true},
              {"year": 2019, "month": 11, "date": 1, "utc": true},
              {"year": 2019, "month": 12, "date": 1, "utc": true},
              {"year": 2020, "month": 1, "date": 1, "utc": true},
              {"year": 2020, "month": 2, "date": 1, "utc": true},
              {"year": 2020, "month": 3, "date": 1, "utc": true},
              {"year": 2020, "month": 4, "date": 1, "utc": true},
              {"year": 2020, "month": 5, "date": 1, "utc": true}
            ],
            "labelExpr": "utcFormat(datum.value, '%b-%y')",
            "labelFontSize": 17.5, "labelPadding": 7, "labelAngle": 0,
            "labelFlush": false, "labelOverlap": false,
            "ticks": true, "tickSize": 5, "tickColor": "#bfbfbf", "tickWidth": 1.5,
            "domain": true, "domainColor": "#bfbfbf", "domainWidth": 1.5, "grid": false
          }
        },
        "y": {
          "field": "hsi", "type": "quantitative", "title": null,
          "scale": {"domain": [10000, 32100], "nice": false, "zero": false},
          "axis": {
            "orient": "right", "values": [10000, 15000, 20000, 25000, 30000], "format": ",d",
            "labelFontSize": 20, "labelPadding": 25, "labelAlign": "left",
            "ticks": false, "domain": false, "grid": false
          }
        },
        "color": {"field": "series", "type": "nominal", "title": null},
        "strokeDash": {"field": "series", "type": "nominal", "title": null}
      }
    }
  ],
  "resolve": {"scale": {"y": "independent"}}
}
